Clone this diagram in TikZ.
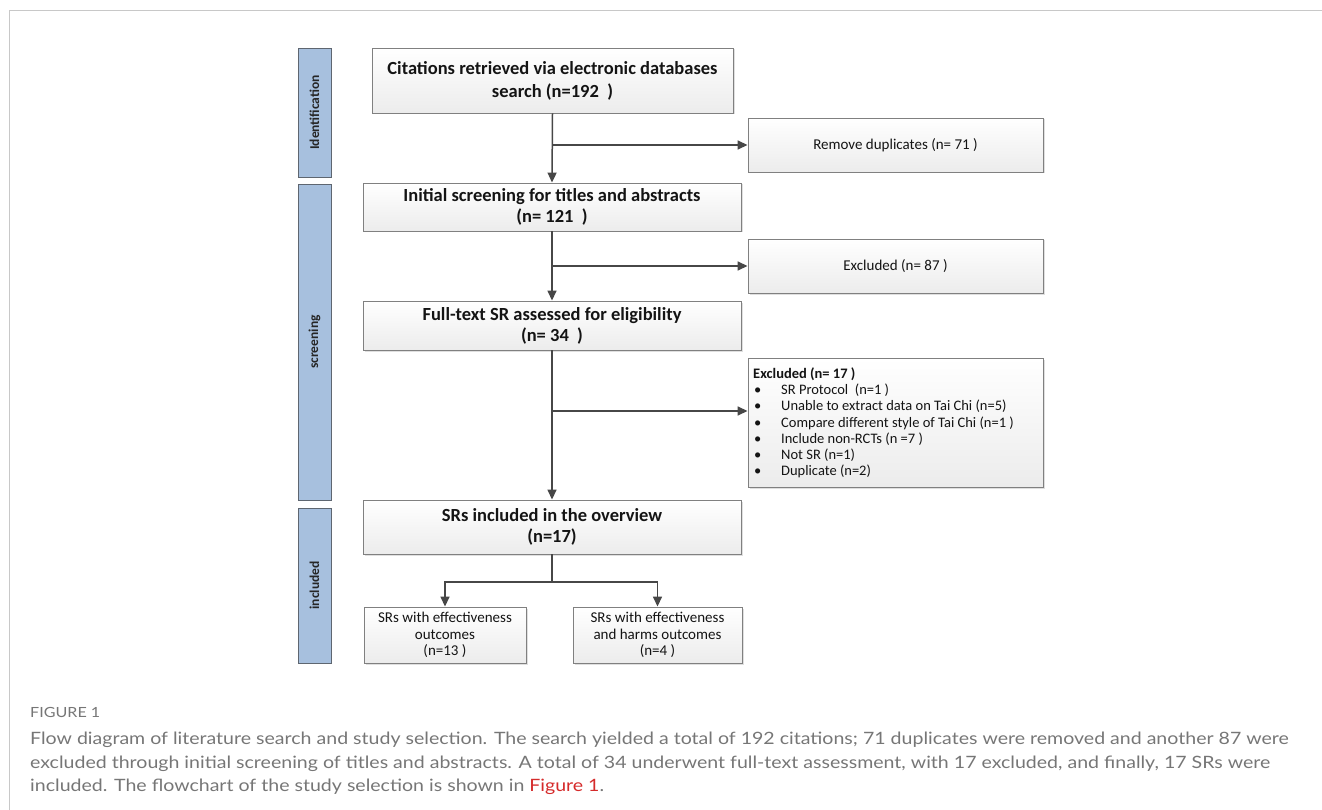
\documentclass[tikz,border=0pt]{standalone}
\usepackage{fontspec}
\setmainfont{Carlito}
\newfontfamily\capfont[FakeStretch=1.15]{Lato}
\usetikzlibrary{arrows.meta,shadows,calc}
\definecolor{sidefill}{HTML}{A7C0DE}
\definecolor{sideline}{HTML}{5E6670}
\definecolor{boxline}{HTML}{808080}
\definecolor{arrowc}{HTML}{474747}
\definecolor{framec}{HTML}{C8C8C8}
\definecolor{captext}{HTML}{767676}
\definecolor{capred}{HTML}{D52B2B}
\begin{document}
\begin{tikzpicture}[x=1pt,y=-1pt,
  flowbox/.style={draw=boxline, line width=0.9pt, top color=white, bottom color=gray!15,
    inner sep=0pt, align=center, text=black!92,
    drop shadow={shadow xshift=1.5pt, shadow yshift=-1.5pt, opacity=0.25, fill=gray}},
  bigtext/.style={font=\bfseries\fontsize{18.5}{21}\selectfont},
  smalltext/.style={font=\fontsize{15}{16}\selectfont},
  listtext/.style={font=\fontsize{14.5}{16.2}\selectfont},
  bottext/.style={font=\fontsize{15}{16.5}\selectfont},
  sidebox/.style={draw=sideline, line width=0.9pt, fill=sidefill, inner sep=0pt, rotate=90,
    font=\bfseries\fontsize{13.5}{15}\selectfont, text=black!85},
  flowarrow/.style={draw=arrowc, line width=1.5pt, -{Triangle[length=10pt,width=9pt]}},
  flowline/.style={draw=arrowc, line width=1.5pt},
  captxt/.style={font=\capfont\fontsize{17}{20}\selectfont, text=captext, anchor=base west, inner sep=0pt},
]
\useasboundingbox (0,0) rectangle (1322,810);
\draw[framec, line width=1pt] (9,810) -- (9,11) -- (1322,11);

% side labels
\node[sidebox, minimum width=129pt, minimum height=33pt] (s1) at (314.5,112.5) {Identification};
\node[sidebox, minimum width=316pt, minimum height=33pt] (s2) at (314.5,342) {screening};
\node[sidebox, minimum width=155pt, minimum height=33pt] (s3) at (314.5,585.5) {included};

% main boxes
\node[flowbox, font=\bfseries\fontsize{18.5}{23}\selectfont, minimum width=361pt, minimum height=65pt] (b1) at (552.5,80.5)
  {Citations retrieved via electronic databases\\search (n=192\ \ )};
\node[flowbox, bigtext, minimum width=378pt, minimum height=48pt] (b2) at (552,207)
  {Initial screening for titles and abstracts\\(n= 121\ \ )};
\node[flowbox, bigtext, minimum width=378pt, minimum height=49pt] (b3) at (552,325.5)
  {Full-text SR assessed for eligibility\\(n= 34\ \ )};
\node[flowbox, bigtext, minimum width=378pt, minimum height=54pt] (b4) at (552,527)
  {SRs included in the overview\\(n=17)};

% right boxes
\node[flowbox, smalltext, minimum width=295pt, minimum height=54pt] (r1) at (895.5,145)
  {Remove duplicates (n= 71 )};
\node[flowbox, smalltext, minimum width=295pt, minimum height=54pt] (r2) at (895.5,266)
  {Excluded (n= 87 )};
\node[flowbox, minimum width=295pt, minimum height=129pt] (r3) at (895.5,422.5) {};
\node[anchor=north west, inner sep=0pt, align=left, listtext, text=black!92] (r3t) at (753,367)
  {\begin{tabular}{@{}p{28pt}@{}l@{}}
   \multicolumn{2}{@{}l@{}}{\bfseries Excluded (n= 17 )}\\
   \hspace*{1pt}•& SR Protocol\ \ (n=1 )\\
   \hspace*{1pt}•& Unable to extract data on Tai Chi (n=5)\\
   \hspace*{1pt}•& Compare different style of Tai Chi (n=1 )\\
   \hspace*{1pt}•& Include non-RCTs (n =7 )\\
   \hspace*{1pt}•& Not SR (n=1)\\
   \hspace*{1pt}•& Duplicate (n=2)
  \end{tabular}};

% bottom boxes
\node[flowbox, bottext, minimum width=162pt, minimum height=56pt] (c1) at (445,635)
  {SRs with effectiveness\\outcomes\\(n=13 )};
\node[flowbox, bottext, minimum width=169pt, minimum height=56pt] (c2) at (657.5,635)
  {SRs with effectiveness\\and harms outcomes\\(n=4 )};

% connectors
\coordinate (j1) at (552,145);
\coordinate (j2) at (552,266);
\coordinate (j3) at (552,411);
\coordinate (j4) at (552,582);
\draw[flowarrow] (b1.south) -- (b2.north);
\draw[flowarrow] (j1) -- (r1.west);
\draw[flowarrow] (b2.south) -- (b3.north);
\draw[flowarrow] (j2) -- (r2.west);
\draw[flowarrow] (b3.south) -- (b4.north);
\draw[flowarrow] (j3) -- (r3.west |- j3);
\draw[flowline] (b4.south) -- (j4);
\draw[flowarrow] (j4) -| (c1.north);
\draw[flowarrow] (j4) -| (c2.north);

% caption
\node[captxt] (cap0) at (30,717) {\fontsize{14}{16}\selectfont FIGURE 1};
\node[captxt] (cap1) at (30,744) {Flow diagram of literature search and study selection. The search yielded a total of 192 citations; 71 duplicates were removed and another 87 were};
\node[captxt] (cap2) at (30,768) {excluded through initial screening of titles and abstracts. A total of 34 underwent full-text assessment, with 17 excluded, and finally, 17 SRs were};
\node[captxt] (cap3) at (30,791) {included. The flowchart of the study selection is shown in \textcolor{capred}{Figure 1}.};
\end{tikzpicture}
\end{document}
